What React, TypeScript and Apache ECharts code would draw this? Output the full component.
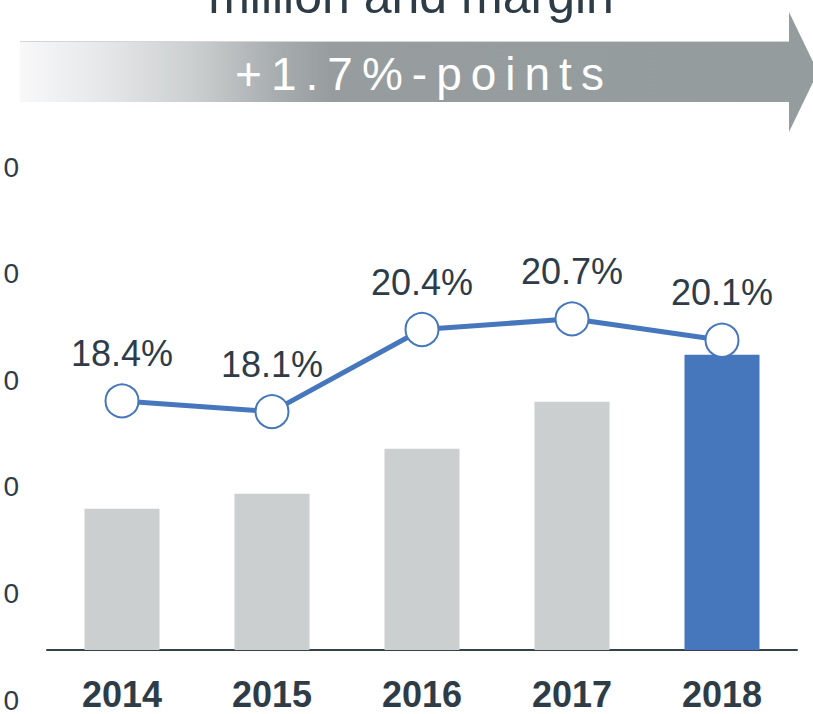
import React, { useEffect, useRef } from "react";
import * as echarts from "echarts";

const categories = ["2014", "2015", "2016", "2017", "2018"];
const ebitdaValues = [132, 146, 188, 232, 276];
const marginValues = [18.4, 18.1, 20.4, 20.7, 20.1];
const highlightIndex = 4;
const leftAxisTicks = [0, 100, 200, 300, 400, 500];
const titleText = "million and margin";
const bannerText = "+1.7%-points";

const FONT = "'Liberation Sans', Arial, Helvetica, sans-serif";
const DARK = "#2e3c48";
const BLUE = "#4677bd";
const GRAY_BAR = "#cccfd0";

export default function App() {
  const ref = useRef<HTMLDivElement>(null);

  useEffect(() => {
    if (!ref.current) return;
    const chart = echarts.init(ref.current, null, { renderer: "svg" });

    const option: any = {
      animation: false,
      backgroundColor: "#ffffff",
      grid: [
        { left: 47, right: 16, top: 150, bottom: 64, containLabel: false },
        { left: 27, width: 10, top: 167, bottom: 13, containLabel: false },
      ],
      xAxis: [
        {
          type: "category",
          gridIndex: 0,
          data: categories,
          axisLine: { show: true, lineStyle: { color: "#35424d", width: 2 } },
          axisTick: { show: false },
          splitLine: { show: false },
          axisLabel: {
            margin: 26,
            fontSize: 36,
            fontWeight: "bold",
            fontFamily: FONT,
            color: DARK,
          },
        },
        { type: "value", gridIndex: 1, show: false },
      ],
      yAxis: [
        { type: "value", gridIndex: 0, min: 0, max: 467.3, show: false },
        { type: "value", gridIndex: 0, min: 11.42, max: 25.43, show: false },
        {
          type: "value",
          gridIndex: 1,
          min: leftAxisTicks[0],
          max: leftAxisTicks[leftAxisTicks.length - 1],
          interval: leftAxisTicks[1] - leftAxisTicks[0],
          axisLine: { show: false },
          axisTick: { show: false },
          splitLine: { show: false },
          axisLabel: {
            margin: 8,
            fontSize: 28,
            fontFamily: FONT,
            color: DARK,
            formatter: (v: number) => String(v).slice(-1),
          },
        },
      ],
      series: [
        {
          type: "bar",
          xAxisIndex: 0,
          yAxisIndex: 0,
          barWidth: "50%",
          data: ebitdaValues.map((v, i) => ({
            value: v,
            itemStyle: { color: i === highlightIndex ? BLUE : GRAY_BAR },
          })),
          z: 2,
        },
        {
          type: "line",
          xAxisIndex: 0,
          yAxisIndex: 1,
          data: marginValues,
          symbol: "circle",
          symbolSize: 33,
          lineStyle: { color: BLUE, width: 5 },
          itemStyle: { color: "#ffffff", borderColor: BLUE, borderWidth: 2 },
          label: {
            show: true,
            position: "top",
            distance: 12,
            fontSize: 36,
            fontFamily: FONT,
            color: DARK,
            formatter: (p: any) => p.value.toFixed(1) + "%",
          },
          z: 5,
        },
      ],
      graphic: [
        {
          type: "text",
          x: 411,
          y: -4,
          style: {
            text: titleText,
            fill: DARK,
            fontSize: 50,
            fontFamily: FONT,
            textAlign: "center",
            textVerticalAlign: "middle",
            verticalAlign: "middle",
          },
        },
        {
          type: "polygon",
          shape: {
            points: [
              [20, 41],
              [789, 41],
              [789, 12],
              [818, 72],
              [789, 132],
              [789, 102],
              [20, 102],
            ],
          },
          style: {
            fill: new echarts.graphic.LinearGradient(0, 0, 1, 0, [
              { offset: 0, color: "#f8f8f9" },
              { offset: 0.1, color: "#e6e8e9" },
              { offset: 0.22, color: "#cbcecf" },
              { offset: 0.32, color: "#a8adaf" },
              { offset: 0.39, color: "#979d9f" },
              { offset: 1, color: "#959c9e" },
            ]),
          },
        },
        {
          type: "line",
          shape: { x1: 20, y1: 41.5, x2: 789, y2: 41.5 },
          style: { stroke: "#d3d6d7", lineWidth: 1 },
        },
        {
          type: "text",
          x: 424,
          y: 74,
          style: {
            text: bannerText,
            fill: "#ffffff",
            fontSize: 46,
            fontFamily: FONT,
            textAlign: "center",
            textVerticalAlign: "middle",
            verticalAlign: "middle",
          },
        },
      ],
    };

    chart.setOption(option);

    const applySpacing = () => {
      const el = ref.current;
      if (!el) return;
      el.querySelectorAll("text").forEach((t) => {
        if (t.textContent === bannerText) {
          (t as SVGTextElement).style.letterSpacing = "9px";
        }
      });
    };
    applySpacing();
    chart.on("finished", applySpacing);
    const raf = requestAnimationFrame(applySpacing);

    return () => {
      cancelAnimationFrame(raf);
      chart.dispose();
    };
  }, []);

  return (
    <div
      ref={ref}
      style={{ position: "fixed", left: 0, top: 0, width: 813, height: 714 }}
    />
  );
}
